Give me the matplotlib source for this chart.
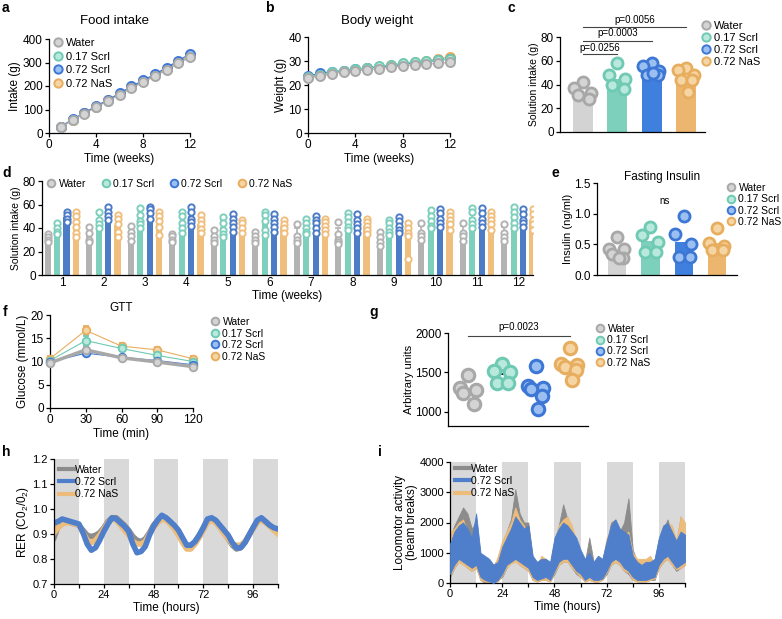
import numpy as np
import matplotlib
matplotlib.use('Agg')
import matplotlib.pyplot as plt
from matplotlib.lines import Line2D

plt.rcParams['font.family'] = ['Liberation Sans', 'DejaVu Sans']
plt.rcParams['mathtext.fontset'] = 'custom'
plt.rcParams['mathtext.rm'] = 'Liberation Sans'
plt.rcParams['axes.linewidth'] = 0.9

# ---------------- data ----------------
groups = ['Water', '0.17 Scrl', '0.72 Scrl', '0.72 NaS']

# a: food intake (g), weeks 1-12
weeks_a = [1, 2, 3, 4, 5, 6, 7, 8, 9, 10, 11, 12]
water_food = [25, 55, 82, 110, 136, 163, 190, 216, 241, 268, 296, 322]
scrl17_food = [26, 56, 84, 112, 138, 166, 194, 220, 246, 273, 301, 328]
scrl72_food = [27, 58, 86, 114, 141, 169, 198, 224, 250, 278, 308, 337]
nas_food = [26, 56, 84, 112, 139, 166, 195, 221, 247, 274, 303, 330]

# b: body weight (g), weeks 0-12
weeks_b = [0, 1, 2, 3, 4, 5, 6, 7, 8, 9, 10, 11, 12]
water_bw = [23.0, 23.6, 24.6, 25.5, 25.9, 26.3, 26.8, 27.4, 27.9, 28.4, 28.7, 29.0, 29.4]
scrl17_bw = [23.5, 24.3, 25.3, 26.0, 26.6, 27.2, 27.8, 28.4, 29.0, 29.5, 30.0, 30.4, 30.8]
scrl72_bw = [23.6, 25.0, 25.5, 26.0, 26.5, 27.0, 27.5, 28.0, 28.6, 29.1, 29.6, 30.3, 30.9]
nas_bw = [23.3, 24.0, 25.0, 26.0, 26.4, 27.0, 27.6, 28.2, 28.8, 29.4, 30.0, 31.0, 31.6]

# c: total solution intake (g)
water_sol = [42, 37, 32.5, 31, 28]
scrl17_sol = [58, 48, 45, 40, 36]
scrl72_sol = [58.5, 56, 51, 48, 48, 50]
nas_sol = [53.7, 52, 48, 44, 44, 34]
c_bars = [33, 45, 52, 47]
c_pvals = ['p=0.0256', 'p=0.0003', 'p=0.0056']

# d: weekly solution intake (g), points per group
weeks_d = [1, 2, 3, 4, 5, 6, 7, 8, 9, 10, 11, 12]
water_wk = [[35, 32, 30, 28], [41, 36, 30, 28], [42, 37, 33, 29], [35, 33, 30, 28],
            [38, 33, 30, 27], [37, 33, 30, 27], [43, 33, 30, 27], [45, 35, 30, 28, 26],
            [37, 32, 28, 25], [44, 36, 33, 30], [44, 36, 33, 29], [43, 36, 32, 29]]
scrl17_wk = [[44, 40, 37, 35], [54, 47, 43, 40], [57, 51, 46, 43, 40], [54, 50, 44, 40, 36],
             [49, 44, 38, 35, 32], [54, 51, 46, 38, 34], [48, 44, 40, 37, 35], [53, 49, 45, 41, 38],
             [47, 44, 40, 37, 34], [55, 50, 46, 42, 40], [57, 54, 47, 43, 40], [58, 54, 49, 44, 40]]
scrl72_wk = [[54, 51, 48, 45], [58, 54, 50, 47], [58, 56, 53, 48], [58, 54, 48, 45, 42],
             [52, 48, 44, 41, 37], [52, 48, 44, 41, 37], [50, 47, 44, 40, 36], [52, 47, 43, 40, 36],
             [49, 46, 42, 38, 36], [56, 53, 48, 44, 41], [57, 53, 48, 44, 41], [56, 52, 47, 44, 41]]
nas_wk = [[54, 50, 45, 41, 36, 32], [51, 48, 43, 37, 32], [54, 50, 46, 41, 34], [51, 47, 43, 39, 36],
          [47, 44, 40, 36], [47, 43, 40, 36], [48, 45, 42, 38, 35], [48, 45, 42, 38, 35],
          [44, 40, 36, 33, 14], [54, 50, 47, 43, 38], [54, 50, 47, 43, 38], [56, 52, 47, 43, 38]]

# e: fasting insulin (ng/ml)
water_ins = [0.62, 0.43, 0.42, 0.35, 0.27, 0.27]
scrl17_ins = [0.79, 0.65, 0.54, 0.38, 0.38]
scrl72_ins = [0.96, 0.67, 0.50, 0.30, 0.30]
nas_ins = [0.76, 0.52, 0.48, 0.41, 0.40]

# f: GTT glucose (mmol/L)
gtt_time = [0, 30, 60, 90, 120]
water_gtt = [9.7, 12.5, 10.8, 9.9, 8.9]
scrl17_gtt = [10.2, 14.5, 12.8, 11.3, 10.0]
scrl72_gtt = [9.9, 11.8, 10.9, 10.2, 9.3]
nas_gtt = [10.6, 16.7, 13.3, 12.5, 10.6]
water_gtt_err = [0.4, 0.6, 0.4, 0.3, 0.3]
scrl17_gtt_err = [0.5, 0.9, 0.5, 0.5, 0.4]
scrl72_gtt_err = [0.4, 0.7, 0.4, 0.4, 0.3]
nas_gtt_err = [0.5, 1.0, 0.6, 0.6, 0.5]

# g: arbitrary units
water_au = [1470, 1300, 1280, 1240, 1100]
scrl17_au = [1610, 1520, 1510, 1370, 1365]
scrl72_au = [1585, 1325, 1305, 1290, 1200, 1030]
nas_au = [1810, 1610, 1590, 1570, 1530, 1400]
g_pval = 'p=0.0023'

# h: RER, every 2 h
hours = list(range(0, 110, 2))
water_rer = [0.885, 0.93, 0.945, 0.95, 0.945, 0.94, 0.935, 0.915, 0.895, 0.89, 0.895, 0.905,
             0.925, 0.95, 0.965, 0.965, 0.95, 0.935, 0.915, 0.89, 0.875, 0.87, 0.88, 0.905,
             0.935, 0.955, 0.97, 0.965, 0.95, 0.93, 0.905, 0.875, 0.855, 0.855, 0.87, 0.895,
             0.925, 0.955, 0.96, 0.95, 0.93, 0.905, 0.88, 0.855, 0.84, 0.845, 0.865, 0.895,
             0.925, 0.95, 0.96, 0.95, 0.935, 0.92, 0.905]
scrl72_rer = [0.945, 0.95, 0.96, 0.955, 0.95, 0.945, 0.94, 0.905, 0.86, 0.835, 0.845, 0.875,
              0.91, 0.94, 0.965, 0.96, 0.945, 0.93, 0.91, 0.86, 0.825, 0.83, 0.85, 0.895,
              0.93, 0.955, 0.975, 0.965, 0.95, 0.935, 0.915, 0.885, 0.855, 0.855, 0.87, 0.895,
              0.925, 0.96, 0.965, 0.955, 0.935, 0.915, 0.895, 0.865, 0.845, 0.845, 0.865, 0.895,
              0.925, 0.955, 0.965, 0.95, 0.935, 0.925, 0.92]
nas_rer = [0.905, 0.925, 0.94, 0.945, 0.945, 0.94, 0.935, 0.905, 0.875, 0.865, 0.875, 0.895,
           0.92, 0.945, 0.96, 0.955, 0.935, 0.915, 0.895, 0.87, 0.86, 0.86, 0.87, 0.9,
           0.925, 0.945, 0.96, 0.955, 0.94, 0.92, 0.895, 0.865, 0.84, 0.84, 0.86, 0.885,
           0.915, 0.945, 0.955, 0.945, 0.925, 0.9, 0.88, 0.86, 0.855, 0.855, 0.87, 0.895,
           0.92, 0.945, 0.955, 0.945, 0.93, 0.915, 0.9]

# i: locomotor activity (beam breaks), upper / lower envelope every 2 h
scrl72_act_hi = [1300, 1700, 1900, 2000, 1800, 1500, 2300, 1000, 900, 800, 600, 700,
                 1200, 1500, 1800, 2200, 2000, 1800, 1900, 900, 700, 800, 800, 700,
                 1500, 1800, 2000, 1900, 1700, 1500, 1100, 800, 1000, 700, 900, 800,
                 1400, 1900, 2100, 1800, 1700, 1600, 900, 700, 600, 700, 700, 800,
                 1500, 1900, 2000, 1700, 1400, 1700, 1600]
scrl72_act_lo = [300, 600, 800, 700, 600, 500, 600, 200, 100, 50, 0, 100,
                 300, 600, 700, 800, 700, 600, 500, 200, 100, 150, 200, 100,
                 400, 700, 800, 800, 600, 400, 300, 100, 200, 100, 100, 150,
                 400, 700, 800, 700, 500, 400, 200, 100, 100, 100, 150, 200,
                 600, 800, 900, 700, 500, 600, 700]
water_act_hi = [1500, 1900, 2200, 2500, 2300, 1800, 2000, 900, 800, 700, 600, 800,
                1300, 1700, 2100, 3100, 2300, 2000, 2000, 800, 600, 700, 700, 600,
                1400, 1900, 2600, 2100, 1600, 1300, 900, 700, 1500, 700, 800, 700,
                1300, 2000, 2100, 1700, 2000, 2800, 1100, 700, 500, 600, 700, 700,
                1400, 1800, 2100, 1600, 1300, 2200, 1400]
water_act_lo = [200, 500, 700, 700, 500, 400, 500, 100, 0, 0, 0, 100,
                200, 500, 700, 800, 600, 500, 400, 100, 50, 100, 100, 50,
                300, 600, 700, 700, 500, 300, 200, 50, 100, 50, 50, 100,
                300, 600, 700, 600, 400, 300, 100, 50, 50, 50, 100, 100,
                500, 700, 800, 600, 400, 500, 600]
nas_act_hi = [1700, 1800, 2000, 2100, 1700, 1500, 1800, 900, 700, 700, 500, 900,
              1400, 1700, 2000, 2500, 2100, 1900, 1500, 800, 600, 900, 800, 600,
              1400, 1900, 2100, 2200, 1900, 1400, 1000, 700, 800, 700, 900, 700,
              1500, 1800, 1900, 1800, 1600, 1700, 1000, 800, 800, 800, 900, 600,
              1500, 1900, 2000, 1900, 1400, 2200, 2000]
nas_act_lo = [250, 500, 700, 600, 500, 400, 500, 100, 50, 0, 0, 50,
              250, 500, 650, 700, 600, 500, 400, 100, 50, 100, 100, 50,
              350, 600, 700, 700, 500, 350, 200, 50, 100, 50, 50, 100,
              350, 600, 700, 600, 400, 350, 100, 50, 50, 50, 100, 150,
              500, 700, 800, 600, 450, 500, 600]

# ---------------- style ----------------
edge_cols = ['#a8a8a8', '#6fcab3', '#3d77d6', '#e8ae5f']
face_cols = ['#d4d4d4', '#b9e8dc', '#9bbff1', '#f6d5a5']
bar_cols = ['#d3d3d3', '#7dd0bb', '#3f7fde', '#edb66f']
dbar_cols = ['#b3b3b3', '#7fcfbd', '#4d7cc7', '#f0bf7e']
line_cols = ['#8c8c8c', '#4f7fcb', '#ecbc7b']

W, H = 782, 619
fig = plt.figure(figsize=(7.82, 6.19), dpi=100)


def box(l, t, r, b):
    return [l / W, 1 - b / H, (r - l) / W, (b - t) / H]


def style(ax, fs=8.5):
    ax.spines['top'].set_visible(False)
    ax.spines['right'].set_visible(False)
    ax.tick_params(direction='out', length=3, width=0.9, labelsize=fs, pad=1.5)


def ftext(x, y, s, **kw):
    fig.text(x / W, 1 - y / H, s, **kw)


def marker_legend(ax, x, y, fs=8, ms=6, sp=0.2):
    hs = [Line2D([], [], ls='none', marker='o', ms=ms, mfc=face_cols[k], mec=edge_cols[k], mew=1.4)
          for k in range(4)]
    ax.legend(hs, groups, loc='upper left', bbox_to_anchor=(x / W, 1 - y / H),
              bbox_transform=fig.transFigure, frameon=False, fontsize=fs, handlelength=0.8,
              handletextpad=0.3, labelspacing=sp, borderpad=0, borderaxespad=0)


panel_kw = dict(fontsize=10, fontweight='bold', ha='left', va='center')
for lab, x, y in [('a', 2, 8), ('b', 265, 8), ('c', 507, 8), ('d', 2, 173), ('e', 552, 173),
                  ('f', 3, 312), ('g', 369, 312), ('h', 2, 452), ('i', 378, 452)]:
    ftext(x, y, lab, **panel_kw)

# ---------------- a ----------------
ax = fig.add_axes(box(49, 39, 190, 133))
style(ax)
food = [water_food, scrl17_food, scrl72_food, nas_food]
for k in [1, 3, 2, 0]:
    ax.plot(weeks_a, food[k], '-o', color=edge_cols[k], lw=0.8, ms=6.5, mfc=face_cols[k],
            mec=edge_cols[k], mew=1.4, clip_on=False, zorder=3)
ax.set_xlim(0, 12)
ax.set_ylim(0, 400)
ax.set_xticks([0, 4, 8, 12])
ax.set_yticks([0, 100, 200, 300, 400])
ax.set_xlabel('Time (weeks)', fontsize=8.5, labelpad=1)
ax.set_ylabel('Intake (g)', fontsize=8.5, labelpad=1)
ftext(115, 21, 'Food intake', fontsize=9.5, ha='center', va='center')
marker_legend(ax, 54, 38, sp=0.32)

# ---------------- b ----------------
ax = fig.add_axes(box(308, 37, 450, 133))
style(ax)
bw = [water_bw, scrl17_bw, scrl72_bw, nas_bw]
for k in [3, 2, 1, 0]:
    ax.plot(weeks_b, bw[k], '-o', color=edge_cols[k], lw=0.8, ms=6.5, mfc=face_cols[k],
            mec=edge_cols[k], mew=1.4, clip_on=False, zorder=3)
ax.set_xlim(0, 12)
ax.set_ylim(0, 40)
ax.set_xticks([0, 4, 8, 12])
ax.set_yticks([0, 10, 20, 30, 40])
ax.set_xlabel('Time (weeks)', fontsize=8.5, labelpad=1)
ax.set_ylabel('Weight (g)', fontsize=8.5, labelpad=1)
ftext(377, 21, 'Body weight', fontsize=9.5, ha='center', va='center')

# jitter pattern used for scatter columns (style only)
jit = [0.0, -0.25, 0.22, -0.15, 0.18, 0.05]


def bar_scatter(ax, pts_list, heights, width, ms):
    for k, pts in enumerate(pts_list):
        ax.bar(k, heights[k], width=width, color=bar_cols[k], zorder=1)
        xs = [k + jit[j % len(jit)] for j in range(len(pts))]
        ax.plot(xs, pts, 'o', ls='none', ms=ms, mfc=face_cols[k], mec=edge_cols[k], mew=2.0,
                zorder=3, clip_on=False)


# ---------------- c ----------------
ax = fig.add_axes(box(560, 37, 705, 132))
style(ax)
bar_scatter(ax, [water_sol, scrl17_sol, scrl72_sol, nas_sol], c_bars, 0.58, 8)
ax.set_xlim(-0.67, 3.55)
ax.set_ylim(0, 80)
ax.set_yticks([0, 20, 40, 60, 80])
ax.set_xticks([])
ax.set_ylabel('Solution intake (g)', fontsize=7.5, labelpad=1)
for (x0, x1, yl, yt), p in zip([(0, 1, 65.7, 70.7), (0, 2, 76.6, 83.3), (0, 3, 88.7, 94.3)], c_pvals):
    ax.plot([x0, x1], [yl, yl], color='#444444', lw=0.8, clip_on=False)
    ax.text((x0 + x1) / 2, yt, p, fontsize=7, ha='center', va='center')
marker_legend(ax, 702, 21, fs=8, sp=0.18)

# ---------------- d ----------------
ax = fig.add_axes(box(42, 181, 533, 275))
style(ax)
wk = [water_wk, scrl17_wk, scrl72_wk, nas_wk]
offs = [-0.34, -0.113, 0.113, 0.34]
for k in range(4):
    for w, pts in zip(weeks_d, wk[k]):
        x = w + offs[k]
        m = np.mean(pts)
        sd = np.std(pts, ddof=1)
        ax.bar(x, m, width=0.15, color=dbar_cols[k], zorder=1)
        ax.errorbar(x, m, yerr=[[0], [sd]], color=dbar_cols[k], lw=1.2, capsize=2, capthick=1.2,
                    zorder=2)
        ax.plot([x] * len(pts), pts, 'o', ls='none', ms=4.5, mfc='white', mec=dbar_cols[k],
                mew=1.4, zorder=3)
ax.set_xlim(0.52, 12.35)
ax.set_ylim(0, 80)
ax.set_yticks([0, 20, 40, 60, 80])
ax.set_xticks(weeks_d)
ax.tick_params(axis='x', length=0)
ax.set_xlabel('Time (weeks)', fontsize=8.5, labelpad=1)
ax.set_ylabel('Solution intake (g)', fontsize=7.5, labelpad=1)
hs = [Line2D([], [], ls='none', marker='o', ms=5.5, mfc=face_cols[k], mec=edge_cols[k], mew=1.4)
      for k in range(4)]
ax.legend(hs, groups, loc='upper left', bbox_to_anchor=(47 / W, 1 - 179 / H),
          bbox_transform=fig.transFigure, frameon=False, fontsize=7.5, ncol=4,
          handlelength=0.8, handletextpad=0.3, columnspacing=1.5, borderpad=0, borderaxespad=0)

# ---------------- e ----------------
ax = fig.add_axes(box(597, 183, 737, 275))
style(ax)
ins = [water_ins, scrl17_ins, scrl72_ins, nas_ins]
bar_scatter(ax, ins, [np.mean(v) for v in ins], 0.55, 8)
ax.set_xlim(-0.6, 3.6)
ax.set_ylim(0, 1.5)
ax.set_yticks([0, 0.5, 1.0, 1.5])
ax.set_yticklabels(['0.0', '0.5', '1.0', '1.5'])
ax.set_xticks([])
ax.set_ylabel('Insulin (ng/ml)', fontsize=8, labelpad=1)
ax.text(1.42, 1.21, 'ns', fontsize=7, ha='center', va='center')
ftext(662, 177, 'Fasting Insulin', fontsize=8.5, ha='center', va='center')
marker_legend(ax, 727, 183, fs=7.5, ms=5.5, sp=0.12)

# ---------------- f ----------------
ax = fig.add_axes(box(50, 315, 193, 408))
style(ax)
gtt = [water_gtt, scrl17_gtt, scrl72_gtt, nas_gtt]
gerr = [water_gtt_err, scrl17_gtt_err, scrl72_gtt_err, nas_gtt_err]
for k in [3, 1, 2, 0]:
    ax.errorbar(gtt_time, gtt[k], yerr=gerr[k], fmt='-o', color=edge_cols[k],
                lw=2.5 if k == 0 else 0.8, ms=5.5, mfc=face_cols[k], mec=edge_cols[k], mew=1.3,
                elinewidth=1.2, capsize=2, clip_on=False, zorder=3)
ax.set_xlim(0, 120)
ax.set_ylim(0, 20)
ax.set_xticks(gtt_time)
ax.set_yticks([0, 5, 10, 15, 20])
ax.set_xlabel('Time (min)', fontsize=8.5, labelpad=1)
ax.set_ylabel('Glucose (mmol/L)', fontsize=8.5, labelpad=1)
ftext(121, 308, 'GTT', fontsize=8.5, ha='center', va='center')
marker_legend(ax, 211, 317, fs=7.5, ms=5.5, sp=0.15)

# ---------------- g ----------------
ax = fig.add_axes(box(448, 333, 588, 426))
style(ax)
au = [water_au, scrl17_au, scrl72_au, nas_au]
for k, pts in enumerate(au):
    m = np.mean(pts)
    ax.plot([k - 0.2, k + 0.2], [m, m], color='k', lw=1.3, zorder=1)
    xs = [k + jit[j % len(jit)] for j in range(len(pts))]
    ax.plot(xs, pts, 'o', ls='none', ms=9, mfc=face_cols[k], mec=edge_cols[k], mew=2.2,
            zorder=3, clip_on=False)
ax.set_xlim(-0.59, 3.53)
ax.set_ylim(820, 2000)
ax.set_yticks([1000, 1500, 2000])
ax.set_xticks([])
ax.set_ylabel('Arbitrary units', fontsize=8, labelpad=1)
ax.plot([0, 3], [1960, 1960], color='#444444', lw=0.8, clip_on=False)
ax.text(1.5, 2010, g_pval, fontsize=7, ha='center', va='bottom')
marker_legend(ax, 596, 324, fs=7.5, ms=5.5, sp=0.12)

# ---------------- h ----------------
ax = fig.add_axes(box(54, 459, 278, 584))
style(ax, fs=8)
for s in range(0, 108, 24):
    ax.axvspan(s, s + 12, color='#d9d9d9', lw=0, zorder=0)
rer = [water_rer, scrl72_rer, nas_rer]
for j in [0, 2, 1]:
    ax.plot(hours, rer[j], color=line_cols[j], lw=4, solid_joinstyle='round', zorder=2)
ax.set_xlim(0, 108)
ax.set_ylim(0.7, 1.2)
ax.set_xticks([0, 24, 48, 72, 96])
ax.set_xticks([12, 36, 60, 84, 108], minor=True)
ax.tick_params(which='minor', length=3, width=0.9)
ax.set_yticks([0.7, 0.8, 0.9, 1.0, 1.1, 1.2])
ax.set_yticklabels(['0.7', '0.8', '0.9', '1.0', '1.1', '1.2'])
ax.set_xlabel('Time (hours)', fontsize=8.5, labelpad=1)
ax.set_ylabel('RER (C0$_2$/0$_2$)', fontsize=8.5, labelpad=1)
lh = [Line2D([], [], color=line_cols[j], lw=3) for j in range(3)]
ax.legend(lh, ['Water', '0.72 Scrl', '0.72 NaS'], loc='upper left',
          bbox_to_anchor=(59 / W, 1 - 465 / H), bbox_transform=fig.transFigure, frameon=False,
          fontsize=7.5, handlelength=1.4, handletextpad=0.1, labelspacing=0.2, borderpad=0,
          borderaxespad=0)

# ---------------- i ----------------
ax = fig.add_axes(box(450, 462, 685, 583))
style(ax, fs=8)
for s in range(0, 108, 24):
    ax.axvspan(s, s + 12, color='#d9d9d9', lw=0, zorder=0)
ax.fill_between(hours, water_act_lo, water_act_hi, color=line_cols[0], lw=0.6, zorder=1)
ax.fill_between(hours, nas_act_lo, nas_act_hi, color=line_cols[2], lw=0.6, zorder=2)
ax.fill_between(hours, scrl72_act_lo, scrl72_act_hi, color=line_cols[1], lw=0.6, zorder=3)
ax.set_xlim(0, 108)
ax.set_ylim(0, 4000)
ax.set_xticks([0, 24, 48, 72, 96])
ax.set_xticks([12, 36, 60, 84, 108], minor=True)
ax.tick_params(which='minor', length=3, width=0.9)
ax.set_yticks([0, 1000, 2000, 3000, 4000])
ax.set_xlabel('Time (hours)', fontsize=8.5, labelpad=1)
ax.set_ylabel('Locomotor activity\n(beam breaks)', fontsize=8.5, labelpad=1, linespacing=1.0)
ax.legend(lh, ['Water', '0.72 Scrl', '0.72 NaS'], loc='upper left',
          bbox_to_anchor=(455 / W, 1 - 464 / H), bbox_transform=fig.transFigure, frameon=False,
          fontsize=7.5, handlelength=1.4, handletextpad=0.1, labelspacing=0.2, borderpad=0,
          borderaxespad=0)

fig.savefig('out.png', dpi=100)
